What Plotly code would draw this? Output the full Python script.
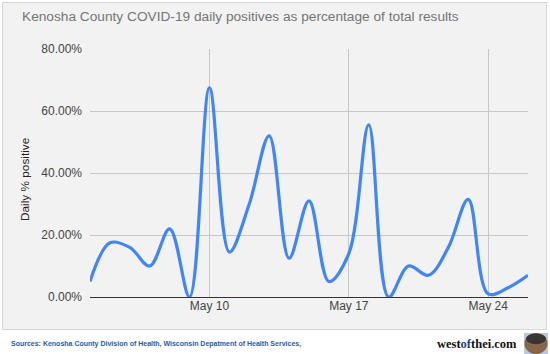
import plotly.graph_objects as go

# ---- data ----
dates = ["2020-05-%02d" % d for d in range(4, 27)]
pct_positive = [5, 17.5, 16, 10, 22, 0, 67.5, 14.5, 30, 52, 12.5, 31, 5, 14,
                55.5, 0, 10, 7, 16, 31.5, 1, 3, 7]
x_tick_vals = ["2020-05-10", "2020-05-17", "2020-05-24"]
x_tick_text = ["May 10", "May 17", "May 24"]
y_tick_vals = [0, 20, 40, 60, 80]
y_tick_text = ["0.00%", "20.00%", "40.00%", "60.00%", "80.00%"]

W, H = 550, 354
L, R, T, B = 90, 22, 49, 57
PW, PH = W - L - R, H - T - B


def px(x):
    return (x - L) / PW


def py(y):
    return (H - B - y) / PH


fig = go.Figure()
fig.add_trace(go.Scatter(
    x=dates, y=pct_positive, mode="lines",
    line=dict(color="#4285f4", width=3.2, shape="spline", smoothing=1.0),
    hoverinfo="skip", showlegend=False, cliponaxis=True,
))

shapes = [
    # outer panel
    dict(type="rect", xref="paper", yref="paper", x0=px(2.5), x1=px(546.5),
         y0=py(329.5), y1=py(2.5), fillcolor="#f2f2f2",
         line=dict(color="#d6d6d6", width=1), layer="below"),
    # globe logo background and globe
    dict(type="rect", xref="paper", yref="paper", x0=px(524), x1=px(548),
         y0=py(354), y1=py(333), fillcolor="#b9c8e0", line=dict(width=0),
         layer="above"),
    dict(type="circle", xref="paper", yref="paper", x0=px(524.5), x1=px(547.5),
         y0=py(354), y1=py(333), fillcolor="#8a6446", line=dict(width=0),
         layer="above"),
    dict(type="circle", xref="paper", yref="paper", x0=px(526), x1=px(546),
         y0=py(344), y1=py(333.5), fillcolor="#3a3434", line=dict(width=0),
         layer="above"),
]

annotations = [
    dict(text="Kenosha County COVID-19 daily positives as percentage of total results",
         xref="paper", yref="paper", x=px(20), y=py(16), xanchor="left",
         yanchor="middle", showarrow=False,
         font=dict(family="Liberation Sans, Arial", size=13.7, color="#757575")),
    dict(text="Daily % positive", xref="paper", yref="paper", x=px(25),
         y=py(179), xanchor="center", yanchor="middle", textangle=-90,
         showarrow=False,
         font=dict(family="Liberation Sans, Arial", size=11.8, color="#222222")),
    dict(text="<b>Sources: Kenosha County Division of Health, Wisconsin Depatment of Health Services,</b>",
         xref="paper", yref="paper", x=px(9), y=py(344), xanchor="left",
         yanchor="middle", showarrow=False,
         font=dict(family="Liberation Sans, Arial", size=7, color="#2a5aa8")),
    dict(text="<b>west<span style='color:#1d3f8a'>of</span>thei<span style='color:#1d3f8a'>.</span>com</b>",
         xref="paper", yref="paper", x=px(519), y=py(344), xanchor="right",
         yanchor="middle", showarrow=False,
         font=dict(family="Liberation Serif, serif", size=12.5, color="#111111")),
]

fig.update_layout(
    width=W, height=H,
    margin=dict(l=L, r=R, t=T, b=B, pad=0),
    paper_bgcolor="#ffffff", plot_bgcolor="#f2f2f2",
    shapes=shapes, annotations=annotations,
    xaxis=dict(type="date", range=["2020-05-04", "2020-05-26"],
               tickvals=x_tick_vals, ticktext=x_tick_text,
               showgrid=True, gridcolor="#c8c8c8", gridwidth=1,
               zeroline=False, showline=False, ticks="",
               tickfont=dict(family="Liberation Sans, Arial", size=12, color="#444444"),
               fixedrange=True),
    yaxis=dict(range=[0, 80], tickvals=y_tick_vals, ticktext=y_tick_text,
               showgrid=True, gridcolor="#c8c8c8", gridwidth=1,
               zeroline=True, zerolinecolor="#333333", zerolinewidth=1,
               showline=False, ticks="", ticklabelstandoff=7,
               tickfont=dict(family="Liberation Sans, Arial", size=12, color="#444444"),
               fixedrange=True),
)

fig.write_html("out.html")
